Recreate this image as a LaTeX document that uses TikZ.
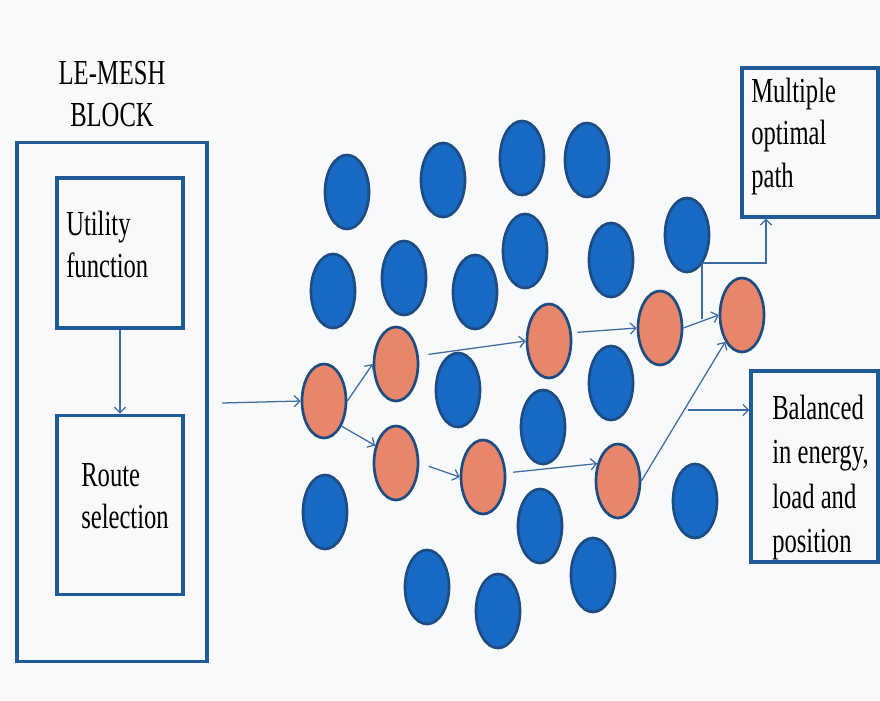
\documentclass[tikz,border=0pt]{standalone}
\usepackage{fontspec}
\newfontfamily\slimserif{Liberation Serif}[FakeStretch=0.7]
\usetikzlibrary{positioning,shapes.geometric,arrows.meta}
\definecolor{nodeblue}{HTML}{1769C4}
\definecolor{rimblue}{HTML}{1D4C82}
\definecolor{pathorange}{HTML}{E8866B}
\definecolor{frameblue}{HTML}{1F5A98}
\definecolor{linkblue}{HTML}{3E6CA0}
\definecolor{paper}{HTML}{F8F9FB}

\begin{document}
\begin{tikzpicture}
[x=0.025cm,y=-0.025cm,
 sensor/.style={draw=rimblue,line width=1.9pt,ellipse,fill=nodeblue,inner sep=0pt,
   minimum width=1.1cm,minimum height=1.85cm},
 relay/.style={sensor,fill=pathorange},
 block/.style={draw=frameblue,line width=2.2pt,rectangle,inner sep=0pt},
 caption/.style={font=\slimserif\fontsize{25}{30}\selectfont,align=left,inner sep=0pt},
 link/.style={draw=linkblue,line width=0.9pt,-{Straight Barb[length=4pt,width=8pt]}}]
\path[use as bounding box,fill=paper] (0,0) rectangle (880,700);
% LE-MESH block on the left
\node[caption,align=center,anchor=north](title) at (112,61){LE-MESH\\BLOCK};
\node[block,minimum width=4.75cm,minimum height=12.95cm](mesh) at (112,402){};
\node[block,minimum width=3.15cm,minimum height=3.75cm](utility) at (120,253){};
\node[block,minimum width=3.15cm,minimum height=4.475cm,below=2.1cm of utility](route){};
\node[caption,anchor=north west](utilitytext) at (66,211){Utility\\function};
\node[caption,anchor=north west](routetext) at (81,463){Route\\selection};
% result boxes on the right
\node[block,minimum width=3.4cm,minimum height=3.725cm](multiple) at (810,142.5){};
\node[block,minimum width=3.175cm,minimum height=4.775cm](balanced) at (814.5,466.5){};
\node[caption,anchor=north west](multipletext) at (751,78){Multiple\\optimal\\path};
\node[caption,anchor=north west,font=\slimserif\fontsize{25}{31.5}\selectfont](balancedtext) at (772,395){Balanced\\in energy,\\load and\\position};
% plain sensor nodes
\node[sensor](b1) at (347,192){};
\node[sensor](b2) at (443,180){};
\node[sensor](b3) at (522,158){};
\node[sensor](b4) at (587,160){};
\node[sensor](b5) at (333,291){};
\node[sensor](b6) at (404,278){};
\node[sensor](b7) at (475,292){};
\node[sensor](b8) at (525,251){};
\node[sensor](b9) at (611,260){};
\node[sensor](b10) at (687,235){};
\node[sensor](b11) at (458,390){};
\node[sensor](b12) at (543,427){};
\node[sensor](b13) at (611,383){};
\node[sensor](b14) at (325,512){};
\node[sensor](b15) at (540,526){};
\node[sensor](b16) at (695,501){};
\node[sensor](b17) at (427,587){};
\node[sensor](b18) at (498,611){};
\node[sensor](b19) at (593,575){};
% nodes on the chosen paths
\node[relay](o1) at (324,401){};
\node[relay](o2) at (396,364){};
\node[relay](o3) at (396,463){};
\node[relay](o4) at (549,341){};
\node[relay](o5) at (483,477){};
\node[relay](o6) at (660,328){};
\node[relay](o7) at (618,481){};
\node[relay](o8) at (742,315){};
\coordinate(feed) at (222,403);
\coordinate(split) at (702,319);
\coordinate(turn) at (766,263);
\coordinate(spread) at (688,410);
\path (utility.south) edge[link] (route.north);
\path (feed) edge[link] (o1.west);
\path (o1.east) edge[link] (o2.west); \path (o1.-55) edge[link] (o3.140);
\path (o2.20) edge[link,shorten <=7pt] (o4.west); \path (o3.east) edge[link,shorten <=7pt] (o5.west);
\path (o4.20) edge[link,shorten <=4pt] (o6.west); \path (o5.10) edge[link,shorten <=5pt] (o7.140);
\path (o6.east) edge[link] (o8.west); \path (o7.east) edge[link] (o8.-122);
\draw[link] (split) |- (turn) -- (turn |- multiple.south);
\draw[link] (spread) -- (spread -| balanced.west);
\end{tikzpicture}
\end{document}
